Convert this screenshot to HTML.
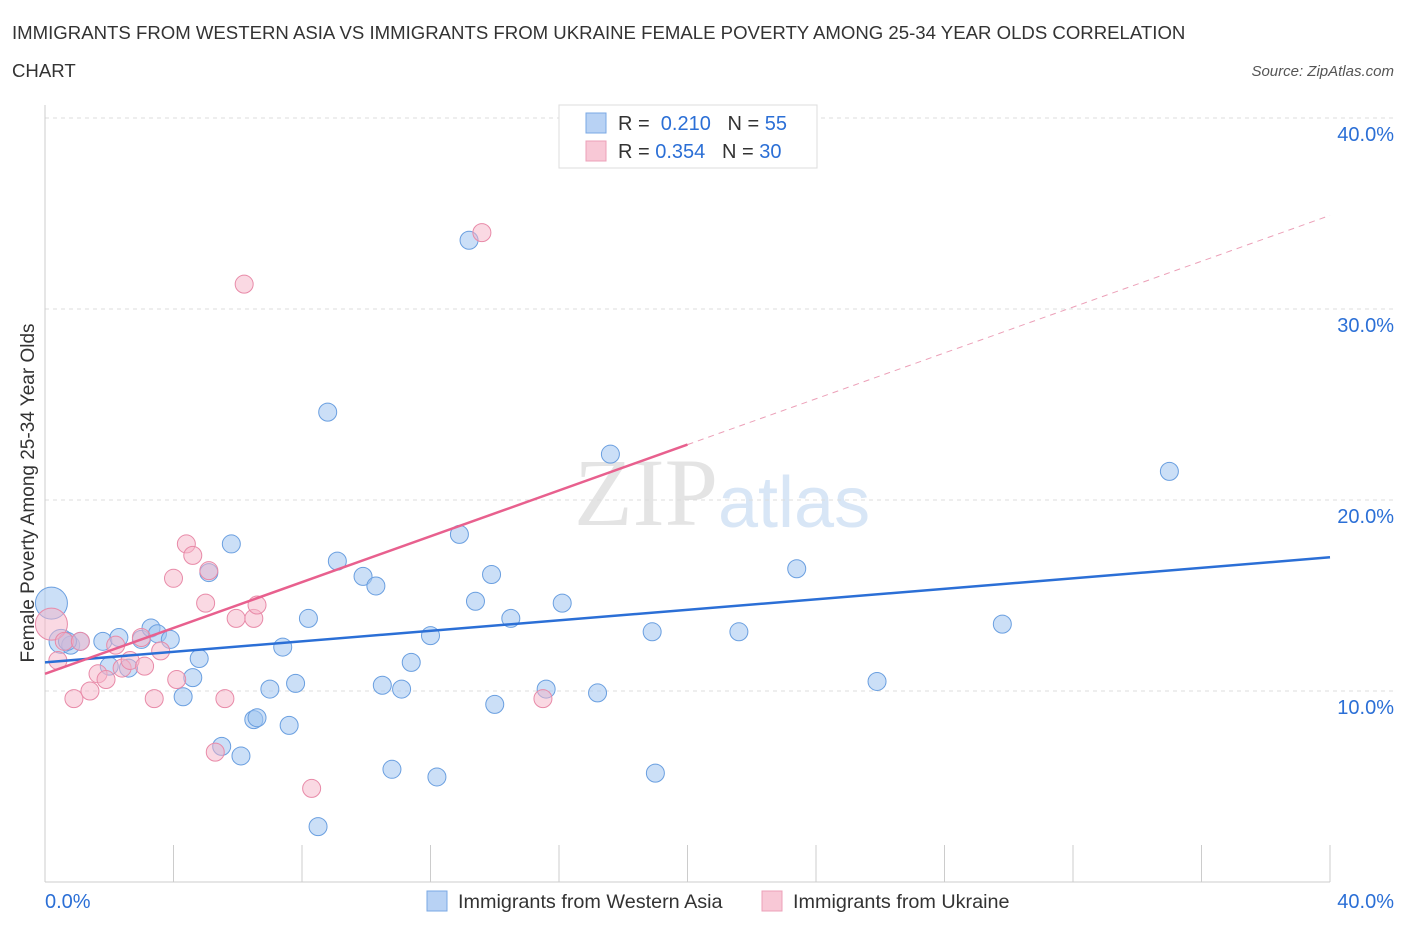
<!DOCTYPE html>
<html><head><meta charset="utf-8">
<style>
body{margin:0;background:#fff;font-family:"Liberation Sans",sans-serif;}
</style></head>
<body>
<svg width="1406" height="930" xmlns="http://www.w3.org/2000/svg" font-family="Liberation Sans, sans-serif">
<text x="12" y="39" font-size="18.6" fill="#333">IMMIGRANTS FROM WESTERN ASIA VS IMMIGRANTS FROM UKRAINE FEMALE POVERTY AMONG 25-34 YEAR OLDS CORRELATION</text>
<text x="12" y="77" font-size="18.6" fill="#333">CHART</text>
<text x="1394" y="76" font-size="15" fill="#555" text-anchor="end" font-style="italic">Source: ZipAtlas.com</text>
<text x="718" y="525" font-size="96" fill="#e4e4e4" text-anchor="end" font-family="Liberation Serif, serif">ZIP</text>
<text x="718" y="527" font-size="72" fill="#d8e6f6">atlas</text>
<g id="grid"></g>
<g id="axes"></g>
<g id="marks"></g>
<g>
<rect x="559" y="105" width="258" height="63" fill="#fff" stroke="#ddd"/>
<rect x="586" y="113" width="20" height="20" fill="#b8d2f4" stroke="#7aa8e4"/>
<text x="618" y="130" font-size="20" fill="#333">R = <tspan fill="#2b6fd6">&#160;0.210</tspan>&#160;&#160;&#160;N = <tspan fill="#2b6fd6">55</tspan></text>
<rect x="586" y="141" width="20" height="20" fill="#f8c8d6" stroke="#eca0b8"/>
<text x="618" y="158" font-size="20" fill="#333">R = <tspan fill="#2b6fd6">0.354</tspan>&#160;&#160;&#160;N = <tspan fill="#2b6fd6">30</tspan></text>
</g>
<g>
<rect x="427" y="891" width="20" height="20" fill="#b8d2f4" stroke="#7aa8e4"/>
<text x="458" y="908" font-size="19.8" fill="#333">Immigrants from Western Asia</text>
<rect x="762" y="891" width="20" height="20" fill="#f8c8d6" stroke="#eca0b8"/>
<text x="793" y="908" font-size="19.8" fill="#333">Immigrants from Ukraine</text>
</g>
<text transform="translate(34,493) rotate(-90)" font-size="19" fill="#333" text-anchor="middle">Female Poverty Among 25-34 Year Olds</text>
</svg>
<script>
const yTicks=[10,20,30,40];
const yTickLabels=["10.0%","20.0%","30.0%","40.0%"];
const xTicks=[0,4,8,12,16,20,24,28,32,36,40];
const blueX=[0.2,0.5,0.8,1.1,1.8,2.0,2.3,2.6,3.0,3.3,3.5,3.9,4.3,4.6,4.8,5.1,5.8,5.5,6.1,6.5,6.6,7.0,7.4,7.6,7.8,8.2,8.5,8.8,9.1,9.9,10.3,10.5,10.8,11.1,11.4,12.0,12.2,12.9,13.2,13.4,13.9,14.0,14.5,15.6,16.1,17.2,17.6,18.9,19.0,21.6,23.4,25.9,29.8,35.0,0.7];
const blueY=[14.6,12.6,12.4,12.6,12.6,11.3,12.8,11.2,12.7,13.3,13.0,12.7,9.7,10.7,11.7,16.2,17.7,7.1,6.6,8.5,8.6,10.1,12.3,8.2,10.4,13.8,2.9,24.6,16.8,16.0,15.5,10.3,5.9,10.1,11.5,12.9,5.5,18.2,33.6,14.7,16.1,9.3,13.8,10.1,14.6,9.9,22.4,13.1,5.7,13.1,16.4,10.5,13.5,21.5,12.6];
const blueR=[16,12,9,9,9,9,9,9,9,9,9,9,9,9,9,9,9,9,9,9,9,9,9,9,9,9,9,9,9,9,9,9,9,9,9,9,9,9,9,9,9,9,9,9,9,9,9,9,9,9,9,9,9,9,9];
const pinkX=[0.2,0.4,0.6,0.9,1.1,1.4,1.65,1.9,2.2,2.4,2.65,3.0,3.1,3.4,3.6,4.0,4.1,4.4,4.6,5.0,5.1,5.6,5.3,5.95,6.2,6.5,6.6,8.3,13.6,15.5];
const pinkY=[13.5,11.6,12.6,9.6,12.6,10.0,10.9,10.6,12.4,11.2,11.6,12.8,11.3,9.6,12.1,15.9,10.6,17.7,17.1,14.6,16.3,9.6,6.8,13.8,31.3,13.8,14.5,4.9,34.0,9.6];
const pinkR=[16,9,9,9,9,9,9,9,9,9,9,9,9,9,9,9,9,9,9,9,9,9,9,9,9,9,9,9,9,9];
const blueTrend=[[0,11.5],[40,17.0]];
const pinkTrendSolid=[[0,10.9],[20,22.9]];
const pinkTrendDash=[[20,22.9],[40,34.9]];
const NS="http://www.w3.org/2000/svg";
const sx=v=>45+v*32.125, sy=v=>882-v*19.1;
function mk(tag,attrs,parent){const e=document.createElementNS(NS,tag);for(const k in attrs)e.setAttribute(k,attrs[k]);document.getElementById(parent).appendChild(e);return e;}
yTicks.forEach((t,i)=>{
 const l=mk('line',{x1:45,x2:1394,y1:sy(t),y2:sy(t),stroke:'#ddd','stroke-dasharray':'4 4'},'grid');
 
 
 const tx=mk('text',{x:1394,y:sy(t)+23,'font-size':20,fill:'#2b6fd6','text-anchor':'end'},'grid');tx.textContent=yTickLabels[i];
 
 
});
const ax=mk('line',{x1:45,x2:45,y1:105,y2:882,stroke:'#ccc'},'axes');


const bx=mk('line',{x1:45,x2:1330,y1:882,y2:882,stroke:'#ccc'},'axes');


xTicks.forEach(t=>{const l=mk('line',{x1:sx(t),x2:sx(t),y1:845,y2:882,stroke:'#ccc'},'axes');
 
 });
[["0.0%",45,'start'],["40.0%",1394,'end']].forEach(a=>{const t=mk('text',{x:a[1],y:908,'font-size':20,fill:'#2b6fd6','text-anchor':a[2]},'axes');t.textContent=a[0];
 
 });
blueX.forEach((x,i)=>{const c=mk('circle',{cx:sx(x),cy:sy(blueY[i]),r:blueR[i],fill:'rgba(160,196,240,0.55)',stroke:'#6a9fe0','stroke-width':1},'marks');
 
 });
pinkX.forEach((x,i)=>{const c=mk('circle',{cx:sx(x),cy:sy(pinkY[i]),r:pinkR[i],fill:'rgba(245,180,200,0.5)',stroke:'#e88aa8','stroke-width':1},'marks');
 
 });
const bl=mk('line',{x1:sx(blueTrend[0][0]),y1:sy(blueTrend[0][1]),x2:sx(blueTrend[1][0]),y2:sy(blueTrend[1][1]),stroke:'#2b6fd6','stroke-width':2.5},'marks');


const pl=mk('line',{x1:sx(pinkTrendSolid[0][0]),y1:sy(pinkTrendSolid[0][1]),x2:sx(pinkTrendSolid[1][0]),y2:sy(pinkTrendSolid[1][1]),stroke:'#e8608e','stroke-width':2.5},'marks');


const pd=mk('line',{x1:sx(pinkTrendDash[0][0]),y1:sy(pinkTrendDash[0][1]),x2:sx(pinkTrendDash[1][0]),y2:sy(pinkTrendDash[1][1]),stroke:'#eca0b8','stroke-width':1,'stroke-dasharray':'6 5'},'marks');


</script>
</body></html>
